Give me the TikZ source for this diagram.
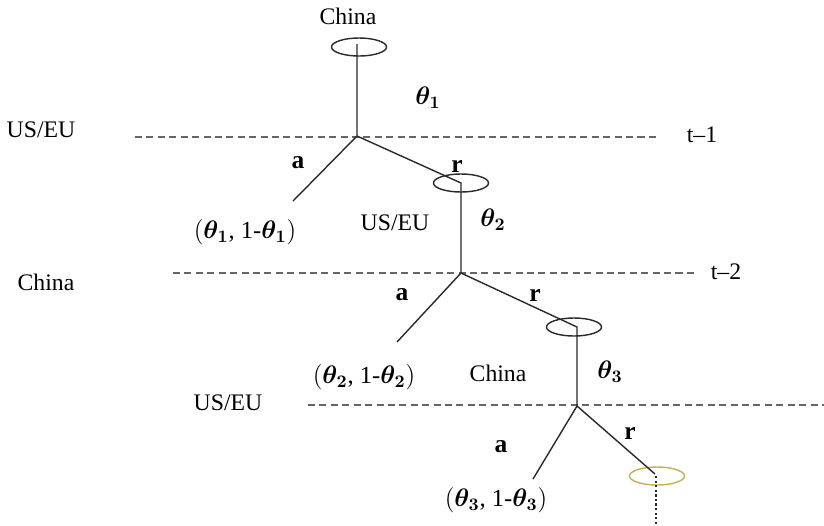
\documentclass[tikz,border=0pt]{standalone}
\usepackage{fontspec}
\setmainfont{Liberation Serif}
\usepackage{bm}
\usepackage{tikz}
\usetikzlibrary{shapes.geometric}
\definecolor{linec}{HTML}{2A2A2A}
\definecolor{dashc}{HTML}{666666}
\definecolor{goldc}{HTML}{C9AE5A}
\tikzset{
  br/.style={linec,line width=0.8pt},
  lvl/.style={dashc,line width=0.6pt,dash pattern=on 4pt off 2.5pt},
  dec/.style={ellipse,draw=linec,line width=0.8pt,minimum width=1.1cm,minimum height=0.36cm,inner sep=0pt},
  lbl/.style={font=\fontsize{13.5}{16}\selectfont,inner sep=1pt},
  act/.style={font=\fontsize{14.5}{16}\selectfont\bfseries,inner sep=1pt},
  th/.style={font=\fontsize{14}{16}\selectfont,inner sep=1pt}
}
\begin{document}
\begin{tikzpicture}[x=0.02cm,y=-0.02cm]
\useasboundingbox (0,0) rectangle (824,525);
% time levels
\coordinate (l1a) at (135,137); \coordinate (l1b) at (657,137);
\coordinate (l2a) at (173,273); \coordinate (l2b) at (695,273);
\coordinate (l3a) at (308,405); \coordinate (l3b) at (824,405);
\draw[lvl] (l1a) -- (l1b);
\draw[lvl] (l2a) -- (l2b);
\draw[lvl] (l3a) -- (l3b);
\node[lbl] (who1) at (41,130) {US/EU};
\node[lbl] (who2) at (46,282) {China};
\node[lbl] (who3) at (228,403) {US/EU};
\node[lbl] (t1) at (702,135) {t--1};
\node[lbl] (t2) at (726,272) {t--2};
% decision nodes
\node[lbl] (topc) at (348,16) {China};
\node[dec] (d1) at (359,47) {};
\node[dec] (d2) at (461,183) {};
\node[dec] (d3) at (574,327) {};
\node[dec,draw=goldc] (d4) at (657,476) {};
\coordinate (j1) at (357,136);
\coordinate (j2) at (461,273);
\coordinate (j3) at (577,406);
\coordinate (e1) at (293,201);
\coordinate (e2) at (397,342);
\coordinate (e3) at (533,479);
\coordinate (dn) at (656,525);
% branches
\draw[br] (357,44) -- (j1) -- (e1);
\draw[br] (j1) -- (d2.center) -- (j2) -- (e2);
\draw[br] (j2) -- (577,327) -- (j3) -- (e3);
\draw[br] (j3) -- (655,474);
\draw[linec,line width=1.5pt,dash pattern=on 1.3pt off 1.3pt] (656,476) -- (dn);
% labels
\node[th] (p1) at (428,98) {$\bm{\theta}_{\bm{1}}$};
\node[th] (p2) at (493,220) {$\bm{\theta}_{\bm{2}}$};
\node[th] (p3) at (610,372) {$\bm{\theta}_{\bm{3}}$};
\node[act] (a1) at (298,163) {a};
\node[act] (r1) at (457,166) {r};
\node[act] (a2) at (402,295) {a};
\node[act] (r2) at (535,295) {r};
\node[act] (a3) at (501,447) {a};
\node[act] (r3) at (630,433) {r};
\node[th] (o1) at (245,232) {$(\bm{\theta}_{\bm{1}}$, 1-$\bm{\theta}_{\bm{1}})$};
\node[th] (o2) at (364,377) {$(\bm{\theta}_{\bm{2}}$, 1-$\bm{\theta}_{\bm{2}})$};
\node[th] (o3) at (496,500) {$(\bm{\theta}_{\bm{3}}$, 1-$\bm{\theta}_{\bm{3}})$};
\node[lbl] (m2) at (395,223) {US/EU};
\node[lbl] (m3) at (498,373) {China};
\end{tikzpicture}
\end{document}
